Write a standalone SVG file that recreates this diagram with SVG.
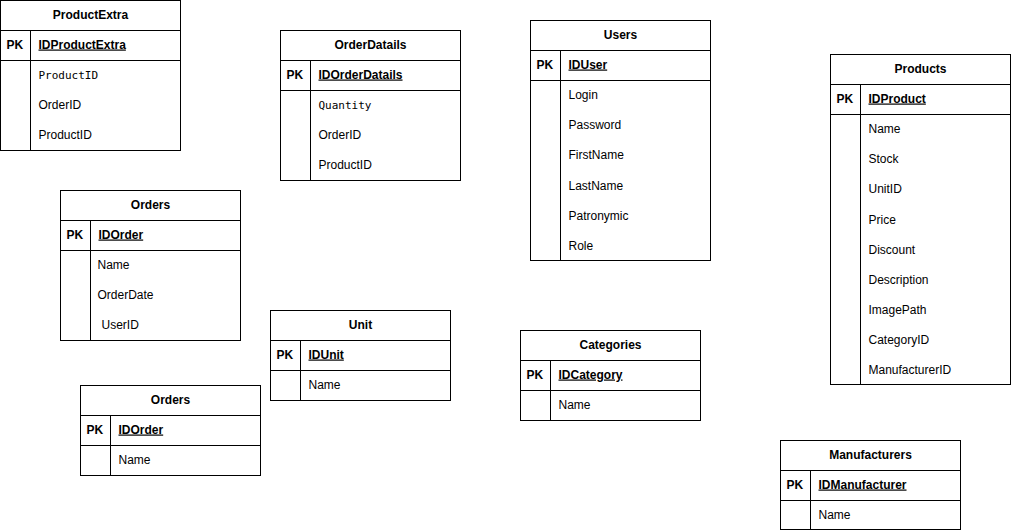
<svg xmlns="http://www.w3.org/2000/svg" width="1012" height="532" viewBox="0 0 1012 532">
<style>
.box{fill:#fff;stroke:#000;stroke-width:1}
.ln{stroke:#000;stroke-width:1;fill:none}
.h{font-family:"Liberation Sans",Arial,sans-serif;font-size:12px;font-weight:bold;text-anchor:middle;fill:#000}
.pk{font-family:"Liberation Sans",Arial,sans-serif;font-size:12px;font-weight:bold;fill:#000}
.id{font-family:"Liberation Sans",Arial,sans-serif;font-size:12px;font-weight:bold;text-decoration:underline;fill:#000}
.f{font-family:"Liberation Sans",Arial,sans-serif;font-size:12px;fill:#000}
.m{font-family:"DejaVu Sans Mono","Liberation Mono",monospace;font-size:11px;fill:#000}
</style>
<rect width="1012" height="532" fill="#fff"/>
<g id="connectors"></g>

<g id="ProductExtra" transform="translate(0.5,0.5)">
<rect class="box" x="0" y="0" width="180" height="150"/>
<line class="ln" x1="0" y1="30" x2="180" y2="30"/><line class="ln" x1="0" y1="60" x2="180" y2="60"/><line class="ln" x1="30" y1="30" x2="30" y2="150"/>
<text class="h" x="90" y="18">ProductExtra</text>
<text class="pk" x="6" y="48">PK</text><text class="id" x="38" y="48">IDProductExtra</text>
<text class="m" x="38" y="78">ProductID</text>
<text class="f" x="38" y="108">OrderID</text>
<text class="f" x="38" y="138">ProductID</text>
</g>

<g id="OrderDatails" transform="translate(280.5,30.5)">
<rect class="box" x="0" y="0" width="180" height="150"/>
<line class="ln" x1="0" y1="30" x2="180" y2="30"/><line class="ln" x1="0" y1="60" x2="180" y2="60"/><line class="ln" x1="30" y1="30" x2="30" y2="150"/>
<text class="h" x="90" y="18">OrderDatails</text>
<text class="pk" x="6" y="48">PK</text><text class="id" x="38" y="48">IDOrderDatails</text>
<text class="m" x="38" y="78">Quantity</text>
<text class="f" x="38" y="108">OrderID</text>
<text class="f" x="38" y="138">ProductID</text>
</g>

<g id="Users" transform="translate(530.5,20.5)">
<rect class="box" x="0" y="0" width="180" height="240"/>
<line class="ln" x1="0" y1="30" x2="180" y2="30"/><line class="ln" x1="0" y1="60" x2="180" y2="60"/><line class="ln" x1="30" y1="30" x2="30" y2="240"/>
<text class="h" x="90" y="18">Users</text>
<text class="pk" x="6" y="48">PK</text><text class="id" x="38" y="48">IDUser</text>
<text class="f" x="38" y="78">Login</text>
<text class="f" x="38" y="108">Password</text>
<text class="f" x="38" y="138">FirstName</text>
<text class="f" x="38" y="169">LastName</text>
<text class="f" x="38" y="199">Patronymic</text>
<text class="f" x="38" y="229">Role</text>
</g>

<g id="Products" transform="translate(830.5,54.5)">
<rect class="box" x="0" y="0" width="180" height="330"/>
<line class="ln" x1="0" y1="30" x2="180" y2="30"/><line class="ln" x1="0" y1="60" x2="180" y2="60"/><line class="ln" x1="30" y1="30" x2="30" y2="330"/>
<text class="h" x="90" y="18">Products</text>
<text class="pk" x="6" y="48">PK</text><text class="id" x="38" y="48">IDProduct</text>
<text class="f" x="38" y="78">Name</text>
<text class="f" x="38" y="108">Stock</text>
<text class="f" x="38" y="138">UnitID</text>
<text class="f" x="38" y="169">Price</text>
<text class="f" x="38" y="199">Discount</text>
<text class="f" x="38" y="229">Description</text>
<text class="f" x="38" y="259">ImagePath</text>
<text class="f" x="38" y="289">CategoryID</text>
<text class="f" x="38" y="319">ManufacturerID</text>
</g>

<g id="Orders" transform="translate(60.5,190.5)">
<rect class="box" x="0" y="0" width="180" height="150"/>
<line class="ln" x1="0" y1="30" x2="180" y2="30"/><line class="ln" x1="0" y1="60" x2="180" y2="60"/><line class="ln" x1="30" y1="30" x2="30" y2="150"/>
<text class="h" x="90" y="18">Orders</text>
<text class="pk" x="6" y="48">PK</text><text class="id" x="38" y="48">IDOrder</text>
<text class="f" x="37" y="78">Name</text>
<text class="f" x="37" y="108">OrderDate</text>
<text class="f" x="41" y="138">UserID</text>
</g>

<g id="Unit" transform="translate(270.5,310.5)">
<rect class="box" x="0" y="0" width="180" height="90"/>
<line class="ln" x1="0" y1="30" x2="180" y2="30"/><line class="ln" x1="0" y1="60" x2="180" y2="60"/><line class="ln" x1="30" y1="30" x2="30" y2="90"/>
<text class="h" x="90" y="18">Unit</text>
<text class="pk" x="6" y="48">PK</text><text class="id" x="38" y="48">IDUnit</text>
<text class="f" x="38" y="78">Name</text>
</g>

<g id="Categories" transform="translate(520.5,330.5)">
<rect class="box" x="0" y="0" width="180" height="90"/>
<line class="ln" x1="0" y1="30" x2="180" y2="30"/><line class="ln" x1="0" y1="60" x2="180" y2="60"/><line class="ln" x1="30" y1="30" x2="30" y2="90"/>
<text class="h" x="90" y="18">Categories</text>
<text class="pk" x="6" y="48">PK</text><text class="id" x="38" y="48">IDCategory</text>
<text class="f" x="38" y="78">Name</text>
</g>

<g id="Orders2" transform="translate(80.5,385.5)">
<rect class="box" x="0" y="0" width="180" height="90"/>
<line class="ln" x1="0" y1="30" x2="180" y2="30"/><line class="ln" x1="0" y1="60" x2="180" y2="60"/><line class="ln" x1="30" y1="30" x2="30" y2="90"/>
<text class="h" x="90" y="18">Orders</text>
<text class="pk" x="6" y="48">PK</text><text class="id" x="38" y="48">IDOrder</text>
<text class="f" x="38" y="78">Name</text>
</g>

<g id="Manufacturers" transform="translate(780.5,440.5)">
<rect class="box" x="0" y="0" width="180" height="89"/>
<line class="ln" x1="0" y1="30" x2="180" y2="30"/><line class="ln" x1="0" y1="60" x2="180" y2="60"/><line class="ln" x1="30" y1="30" x2="30" y2="89"/>
<text class="h" x="90" y="18">Manufacturers</text>
<text class="pk" x="6" y="48">PK</text><text class="id" x="38" y="48">IDManufacturer</text>
<text class="f" x="38" y="78">Name</text>
</g>
</svg>
